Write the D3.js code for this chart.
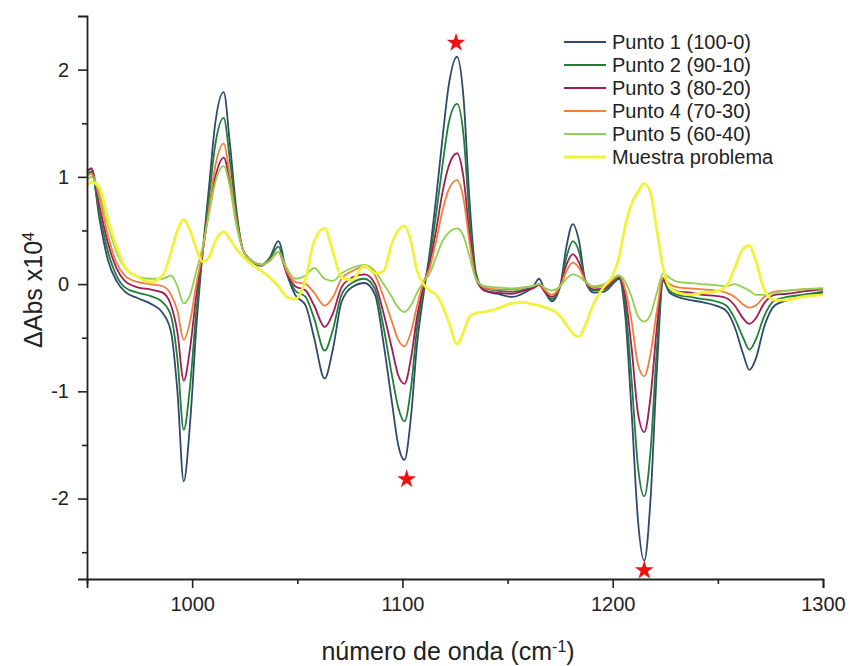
<!DOCTYPE html>
<html>
<head>
<meta charset="utf-8">
<script src="https://cdn.jsdelivr.net/npm/d3@7"></script>
<style>
  body { margin: 0; background: #fff; }
  svg { font-family: Arial, "Liberation Sans", sans-serif; }
</style>
</head>
<body>
<div id="chart"></div>
<script>
// wavenumber grid (cm-1) shared by all series
const wavenumbers = [950, 952, 956, 960, 964, 968, 974, 980, 986, 990, 993, 996, 999, 1002, 1005, 1008, 1011, 1015, 1018, 1021, 1024, 1028, 1033, 1037, 1041, 1045, 1049, 1054, 1058, 1063, 1067, 1071, 1076, 1082, 1087, 1091, 1095, 1098, 1101, 1104, 1107, 1110, 1113, 1116, 1119, 1122, 1126, 1129, 1132, 1135, 1139, 1145, 1152, 1158, 1162, 1165, 1168, 1171, 1175, 1178, 1181, 1184, 1187, 1191, 1196, 1200, 1203, 1206, 1209, 1212, 1215, 1218, 1221, 1224, 1227, 1231, 1237, 1243, 1249, 1254, 1258, 1262, 1265, 1268, 1272, 1277, 1283, 1290, 1300];

const punto1 = [1.05, 1.08, 0.6, 0.22, 0.03, -0.07, -0.13, -0.18, -0.27, -0.45, -1.0, -1.84, -1.3, -0.4, 0.3, 0.9, 1.5, 1.79, 1.3, 0.7, 0.33, 0.22, 0.17, 0.25, 0.4, 0.1, -0.1, -0.2, -0.5, -0.88, -0.6, -0.17, -0.03, 0.01, -0.1, -0.55, -1.1, -1.5, -1.64, -1.25, -0.55, -0.1, 0.3, 0.8, 1.35, 1.85, 2.12, 1.75, 0.75, 0.1, -0.06, -0.09, -0.12, -0.08, -0.03, 0.05, -0.08, -0.16, -0.02, 0.35, 0.56, 0.4, 0.03, -0.08, -0.07, 0.0, 0.05, -0.3, -1.2, -2.2, -2.58, -2.0, -0.8, 0.03, -0.08, -0.12, -0.15, -0.17, -0.2, -0.25, -0.4, -0.65, -0.8, -0.7, -0.4, -0.2, -0.15, -0.12, -0.08];

const punto2 = [1.02, 1.05, 0.65, 0.3, 0.08, -0.03, -0.08, -0.11, -0.17, -0.3, -0.7, -1.36, -0.95, -0.25, 0.3, 0.8, 1.3, 1.55, 1.15, 0.65, 0.33, 0.22, 0.18, 0.24, 0.35, 0.1, -0.06, -0.12, -0.32, -0.62, -0.42, -0.1, 0.01, 0.05, -0.05, -0.4, -0.85, -1.15, -1.28, -0.98, -0.4, -0.05, 0.25, 0.65, 1.1, 1.5, 1.68, 1.4, 0.6, 0.08, -0.04, -0.06, -0.07, -0.05, -0.03, 0.0, -0.08, -0.14, -0.02, 0.25, 0.4, 0.3, 0.03, -0.06, -0.05, 0.02, 0.06, -0.2, -0.9, -1.7, -1.98, -1.55, -0.6, 0.04, -0.06, -0.1, -0.12, -0.14, -0.16, -0.2, -0.32, -0.5, -0.61, -0.52, -0.3, -0.15, -0.12, -0.1, -0.07];

const punto3 = [1.05, 1.08, 0.72, 0.38, 0.15, 0.03, -0.03, -0.05, -0.08, -0.2, -0.45, -0.9, -0.6, -0.1, 0.3, 0.7, 1.0, 1.18, 0.95, 0.58, 0.33, 0.22, 0.18, 0.22, 0.3, 0.1, -0.02, -0.06, -0.2, -0.4, -0.27, -0.03, 0.06, 0.09, 0.0, -0.27, -0.6, -0.85, -0.93, -0.7, -0.3, -0.02, 0.2, 0.5, 0.85, 1.1, 1.22, 1.0, 0.45, 0.05, -0.06, -0.08, -0.09, -0.06, -0.04, -0.01, -0.08, -0.12, -0.02, 0.18, 0.28, 0.2, 0.03, -0.05, -0.04, 0.03, 0.07, -0.12, -0.6, -1.2, -1.38, -1.05, -0.4, 0.05, -0.03, -0.07, -0.08, -0.1, -0.11, -0.13, -0.2, -0.32, -0.37, -0.32, -0.18, -0.1, -0.09, -0.07, -0.05];

const punto4 = [1.0, 1.03, 0.8, 0.45, 0.2, 0.08, 0.02, 0.0, -0.02, -0.1, -0.25, -0.52, -0.35, 0.0, 0.3, 0.7, 1.1, 1.31, 1.0, 0.6, 0.33, 0.22, 0.18, 0.22, 0.3, 0.12, 0.02, 0.0, -0.08, -0.2, -0.12, 0.05, 0.12, 0.16, 0.08, -0.12, -0.35, -0.52, -0.58, -0.45, -0.2, 0.02, 0.15, 0.4, 0.68, 0.88, 0.97, 0.8, 0.38, 0.05, -0.03, -0.05, -0.05, -0.03, -0.02, 0.0, -0.06, -0.1, -0.02, 0.12, 0.2, 0.15, 0.03, -0.03, -0.02, 0.04, 0.08, -0.05, -0.35, -0.75, -0.86, -0.65, -0.25, 0.06, 0.0, -0.03, -0.04, -0.05, -0.06, -0.08, -0.12, -0.19, -0.22, -0.2, -0.12, -0.07, -0.06, -0.05, -0.04];

const punto5 = [0.97, 1.0, 0.85, 0.55, 0.3, 0.15, 0.07, 0.05, 0.05, 0.08, -0.02, -0.18, -0.1, 0.12, 0.35, 0.65, 0.95, 1.1, 0.9, 0.55, 0.33, 0.22, 0.18, 0.22, 0.3, 0.15, 0.05, 0.08, 0.15, 0.05, 0.03, 0.1, 0.15, 0.18, 0.12, 0.0, -0.12, -0.22, -0.26, -0.2, -0.08, 0.02, 0.1, 0.25, 0.4, 0.48, 0.52, 0.45, 0.25, 0.05, -0.02, -0.03, -0.04, -0.03, -0.02, 0.0, -0.04, -0.06, -0.02, 0.05, 0.09, 0.07, 0.02, -0.02, 0.0, 0.05, 0.08, 0.02, -0.12, -0.3, -0.35, -0.28, -0.08, 0.1, 0.06, 0.02, 0.01, 0.0, -0.01, -0.02, 0.0, -0.03, -0.06, -0.1, -0.1, -0.08, -0.06, -0.05, -0.04];

const muestra = [0.92, 0.95, 0.9, 0.6, 0.35, 0.16, 0.07, 0.02, 0.08, 0.3, 0.5, 0.6, 0.5, 0.33, 0.21, 0.25, 0.4, 0.49, 0.42, 0.33, 0.26, 0.19, 0.12, 0.06, -0.02, -0.12, -0.14, 0.05, 0.4, 0.52, 0.3, 0.06, 0.04, 0.17, 0.1, 0.12, 0.38, 0.5, 0.54, 0.4, 0.12, 0.0, -0.06, -0.1, -0.2, -0.35, -0.56, -0.45, -0.3, -0.27, -0.26, -0.23, -0.18, -0.17, -0.19, -0.2, -0.22, -0.24, -0.3, -0.38, -0.46, -0.49, -0.38, -0.18, -0.02, 0.08, 0.25, 0.55, 0.75, 0.86, 0.94, 0.85, 0.5, 0.15, -0.03, -0.08, -0.1, -0.08, -0.07, -0.02, 0.15, 0.33, 0.36, 0.22, -0.05, -0.15, -0.15, -0.12, -0.1];

const seriesNames = ["Punto 1 (100-0)", "Punto 2 (90-10)", "Punto 3 (80-20)", "Punto 4 (70-30)", "Punto 5 (60-40)", "Muestra problema"];
const seriesValues = [punto1, punto2, punto3, punto4, punto5, muestra];

// marked bands (red stars)
const starX = [1125.5, 1102, 1215];
const starY = [2.25, -1.82, -2.67];

const xTicks = [1000, 1100, 1200, 1300];
const xMinorTicks = [950, 1050, 1150, 1250];
const yTicks = [-2, -1, 0, 1, 2];
const yMinorTicks = [-2.5, -1.5, -0.5, 0.5, 1.5];

// styles
const seriesColors = ["#2f4a6e", "#1f7f36", "#a11c55", "#f47d3c", "#8fd150", "#f2f23a"];
const seriesWidths = [1.8, 1.8, 1.8, 1.8, 1.8, 2.8];

const width = 850, height = 666;
const margin = { top: 16, right: 27, bottom: 87, left: 87 };

const svg = d3.select("#chart").append("svg")
  .attr("width", width)
  .attr("height", height);

const x = d3.scaleLinear().domain([950, 1300]).range([margin.left, width - margin.right]);
const y = d3.scaleLinear().domain([-2.75, 2.5]).range([height - margin.bottom, margin.top]);

const line = d3.line()
  .x((d, i) => x(wavenumbers[i]))
  .y(d => y(d))
  .curve(d3.curveMonotoneX);

svg.append("g")
  .selectAll("path")
  .data(seriesValues)
  .join("path")
  .attr("fill", "none")
  .attr("stroke", (d, i) => seriesColors[i])
  .attr("stroke-width", (d, i) => seriesWidths[i])
  .attr("stroke-linejoin", "round")
  .attr("d", line);

// stars
svg.append("g")
  .selectAll("path")
  .data(starX)
  .join("path")
  .attr("transform", (d, i) => `translate(${x(d)},${y(starY[i])})`)
  .attr("d", d3.symbol(d3.symbolStar, 110))
  .attr("fill", "#f01010");

// axes
const axisColor = "#222";
const plain = d => String(d);  // keep ASCII hyphen like the original

svg.append("g")
  .attr("transform", `translate(0,${height - margin.bottom})`)
  .call(d3.axisBottom(x).tickValues(xTicks).tickSize(9).tickPadding(9).tickFormat(plain));
svg.append("g")
  .attr("transform", `translate(0,${height - margin.bottom})`)
  .call(d3.axisBottom(x).tickValues(xMinorTicks).tickSize(5).tickFormat(""))
  .select(".domain").remove();

svg.append("g")
  .attr("transform", `translate(${margin.left},0)`)
  .call(d3.axisLeft(y).tickValues(yTicks).tickSize(9).tickPadding(9).tickFormat(plain));
svg.append("g")
  .attr("transform", `translate(${margin.left},0)`)
  .call(d3.axisLeft(y).tickValues(yMinorTicks).tickSize(5).tickFormat(""))
  .select(".domain").remove();

svg.selectAll(".domain").attr("stroke", axisColor).attr("stroke-width", 1.8);
svg.selectAll(".tick line").attr("stroke", axisColor).attr("stroke-width", 1.6);
svg.selectAll(".tick text")
  .attr("fill", "#222")
  .style("font-size", "20px")
  .style("font-family", "Arial, 'Liberation Sans', sans-serif");

// axis titles
const xTitle = svg.append("text")
  .attr("x", 448)
  .attr("y", 660)
  .attr("text-anchor", "middle")
  .attr("fill", "#222")
  .style("font-size", "25px");
xTitle.append("tspan").text("número de onda (cm");
xTitle.append("tspan").text("-1").attr("baseline-shift", "super").style("font-size", "16px");
xTitle.append("tspan").text(")");

const yTitle = svg.append("text")
  .attr("transform", `translate(42,290) rotate(-90)`)
  .attr("text-anchor", "middle")
  .attr("fill", "#222")
  .style("font-size", "25px");
yTitle.append("tspan").text("ΔAbs x10");
yTitle.append("tspan").text("4").attr("baseline-shift", "super").style("font-size", "16px");

// legend
const legend = svg.append("g").attr("transform", "translate(564,42)");
const rows = legend.selectAll("g")
  .data(seriesNames)
  .join("g")
  .attr("transform", (d, i) => `translate(0,${i * 23})`);
rows.append("line")
  .attr("x1", 0).attr("x2", 42)
  .attr("stroke", (d, i) => seriesColors[i])
  .attr("stroke-width", (d, i) => seriesWidths[i]);
rows.append("text")
  .attr("x", 48)
  .attr("dy", "0.35em")
  .attr("fill", "#222")
  .style("font-size", "20px")
  .text(d => d);
</script>
</body>
</html>
